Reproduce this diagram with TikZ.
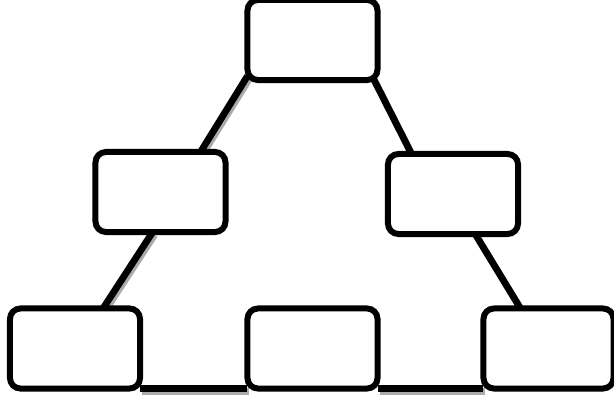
\documentclass[tikz,border=0pt]{standalone}
\usepackage{tikz}
\usetikzlibrary{backgrounds}

\begin{document}
\begin{tikzpicture}[
    x=0.025cm, y=-0.025cm,
    box/.style={
        draw, fill=white, line width=0.15cm,
        rounded corners=0.26cm, outer sep=0pt,
        minimum width=3.25cm, minimum height=2cm,
        inner sep=0pt
    },
    shade/.style={
        draw=black!33, line width=0.16cm,
        transform canvas={xshift=0.05cm, yshift=-0.075cm}
    },
    link/.style={
        draw, line width=0.17cm,
        preaction={shade}
    },
]
\useasboundingbox (0,0) rectangle (614,398);

% Three rows: apex, middle pair, bottom triple
\node[box] (apex) at (312.5, 40) {};
\node[box] (midl) at (160.5, 192) {};
\node[box] (midr) at (453, 194) {};
\node[box] (botl) at (75, 348.5) {};
\node[box] (botm) at (312.5, 348.5) {};
\node[box] (botr) at (548.5, 348.5) {};

% Connectors behind the boxes
\begin{pgfonlayer}{background}
\path[link] (apex.209) -- (midl.45);
\path[link] (midl.259) -- (botl.55);
\path[link] (apex.327) -- (midr.136);
\path[link] (midr.299) -- (botr.125);

% Bottom row joined along the lower edges
\path[link] (botl.south east) -- (botm.south west);
\path[link] (botm.south east) -- (botr.south west);
\end{pgfonlayer}

\end{tikzpicture}
\end{document}
